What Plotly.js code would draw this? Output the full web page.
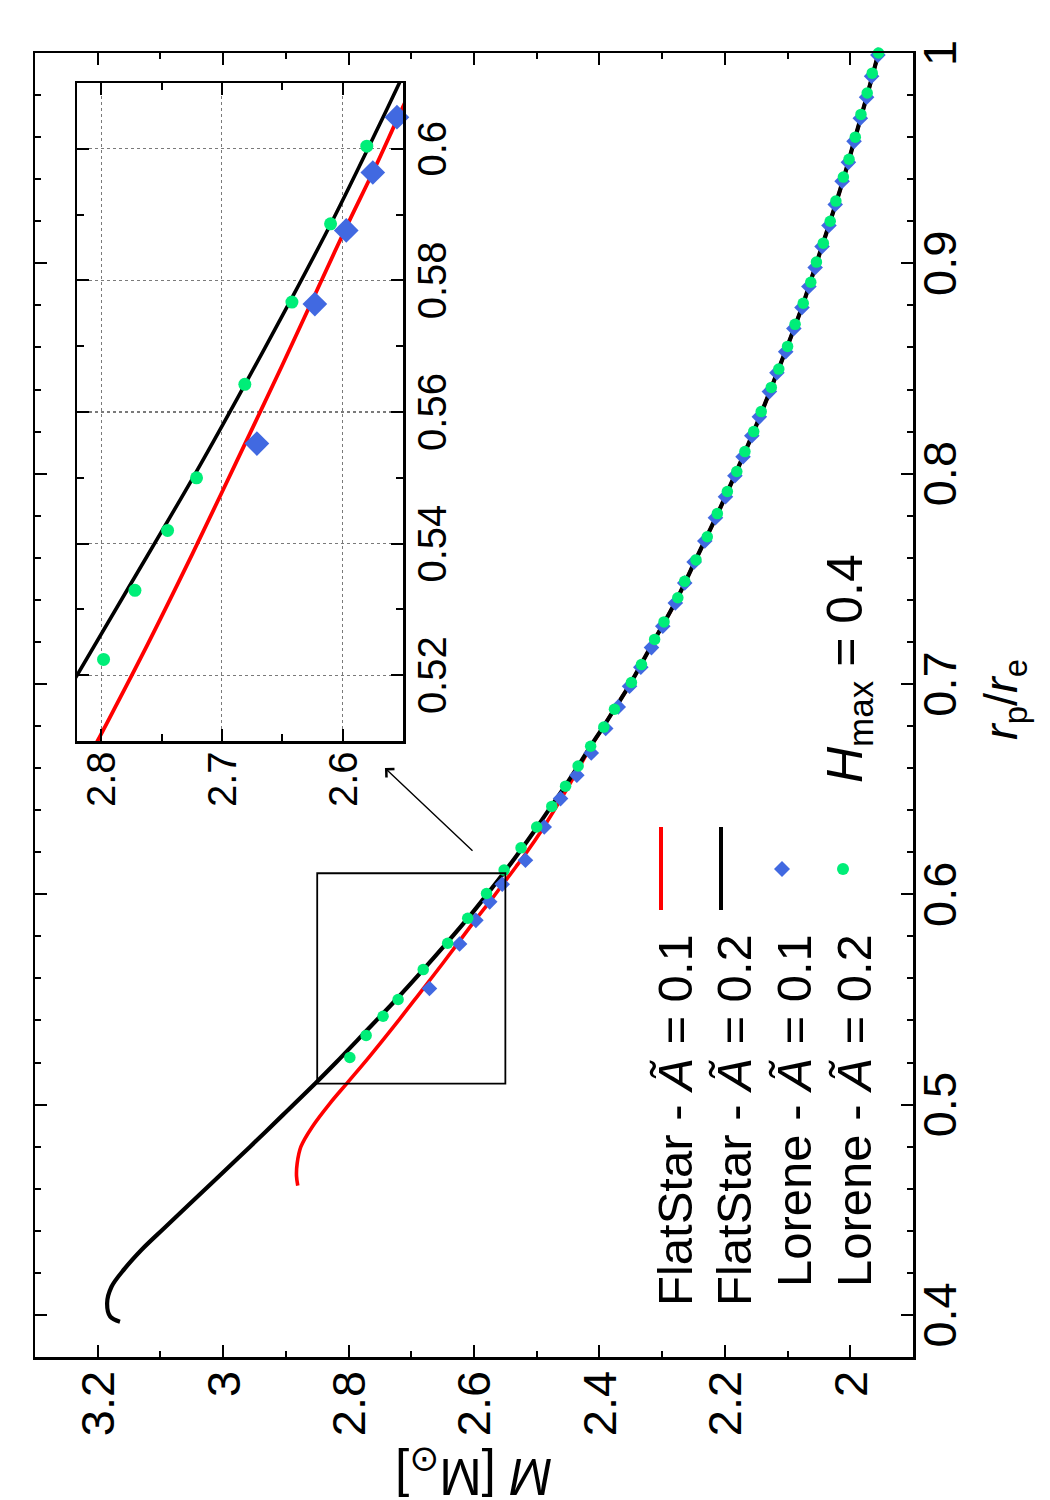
<!DOCTYPE html>
<html>
<head>
<meta charset="utf-8">
<script src="https://cdn.plot.ly/plotly-3.0.1.min.js"></script>
<style>
  html, body { margin: 0; padding: 0; background: #fff; overflow: hidden; width: 1050px; height: 1500px; }
  /* the figure is laid out in landscape and turned a quarter turn counter-clockwise */
  #chart { position: absolute; left: 0; top: 0; width: 1500px; height: 1050px;
           transform-origin: 0 0; transform: translate(0px, 1500px) rotate(-90deg); }
</style>
</head>
<body>
<div id="chart"></div>
<script>
// ---- FlatStar sequences (r_p/r_e, gravitational mass in solar masses) ----
const flatR_A01 = [0.4615,0.4660,0.4720,0.4800,0.4894,0.5005,0.5100,0.5227,0.5386,0.5528,
                   0.5671,0.5782,0.5877,0.5972,0.6044,0.6131,0.62,0.63,0.64,0.65,
                   0.66,0.67,0.68,0.69,0.70,0.72,0.74,0.76,0.78,0.80,
                   0.82,0.84,0.86,0.88,0.90,0.92,0.94,0.96,0.98,1.00];
const flatM_A01 = [2.881,2.883,2.882,2.876,2.858,2.830,2.803,2.767,2.724,2.687,
                   2.650,2.622,2.598,2.573,2.555,2.533,2.516,2.493,2.472,2.452,
                   2.433,2.414,2.393,2.372,2.351,2.314,2.277,2.245,2.213,2.183,
                   2.154,2.127,2.101,2.076,2.054,2.032,2.011,1.992,1.973,1.955];

const flatR_A02 = [0.3968,0.3992,0.4056,0.4134,0.4220,0.4310,0.4410,0.4520,0.4650,0.4800,
                   0.4950,0.5104,0.5200,0.5334,0.5500,0.5618,0.5770,0.5896,0.6008,0.6100,
                   0.62,0.63,0.64,0.65,0.66,0.67,0.68,0.69,0.70,
                   0.72,0.74,0.76,0.78,0.80,0.82,0.84,0.86,0.88,0.90,0.92,0.94,0.96,0.98,1.00];
const flatM_A02 = [3.1645,3.180,3.185,3.178,3.157,3.130,3.095,3.056,3.010,2.957,
                   2.905,2.852,2.820,2.777,2.724,2.688,2.643,2.607,2.577,2.553,
                   2.528,2.504,2.481,2.458,2.436,2.415,2.393,2.372,2.351,
                   2.314,2.277,2.245,2.213,2.183,2.154,2.127,2.101,2.076,2.054,2.032,2.011,1.992,1.973,1.955];

// ---- Lorene models ----
const loreneR_A01 = [0.5552,0.5764,0.5876,0.5964,0.6048,0.6162,0.6320,0.6455,0.6566,0.6672,
                     0.6788,0.6891,0.6989,0.7080,0.7173,0.7275,0.7385,0.7480,0.758,0.768,
                     0.779,0.789,0.799,0.808,0.818,0.827,0.839,0.848,0.858,0.869,
                     0.879,0.889,0.898,0.908,0.918,0.928,0.939,0.948,0.958,0.969,
                     0.979,0.989,0.999];
const loreneM_A01 = [2.671,2.623,2.597,2.575,2.555,2.518,2.488,2.462,2.436,2.413,
                     2.390,2.370,2.352,2.334,2.317,2.299,2.279,2.264,2.249,2.232,
                     2.215,2.199,2.184,2.171,2.157,2.145,2.129,2.117,2.103,2.090,
                     2.077,2.066,2.056,2.045,2.034,2.024,2.013,2.003,1.994,1.984,
                     1.974,1.966,1.956];

const loreneR_A02 = [0.5224,0.5329,0.5420,0.5500,0.5642,0.5767,0.5886,0.6004,0.6115,0.6221,
                     0.6320,0.6418,0.6514,0.6610,0.6704,0.6795,0.6880,0.7007,0.7092,0.7212,
                     0.7295,0.7410,0.7488,0.7590,0.7700,0.7810,0.7915,0.8010,0.8105,0.8200,
                     0.8295,0.8410,0.8497,0.8605,0.8710,0.8810,0.8910,0.9006,0.9096,0.9200,
                     0.9296,0.9410,0.9495,0.9600,0.9708,0.9810,0.9904,1.0000];
const loreneM_A02 = [2.798,2.772,2.745,2.721,2.681,2.642,2.610,2.580,2.552,2.525,
                     2.500,2.476,2.454,2.434,2.414,2.393,2.376,2.349,2.333,2.312,
                     2.297,2.275,2.264,2.246,2.228,2.212,2.196,2.181,2.168,2.154,
                     2.142,2.126,2.114,2.100,2.088,2.075,2.063,2.054,2.043,2.032,
                     2.023,2.011,2.002,1.992,1.983,1.973,1.965,1.955];

const legendLabels = ['FlatStar - <i>Ã</i> = 0.1', 'FlatStar - <i>Ã</i> = 0.2',
                      'Lorene - <i>Ã</i> = 0.1', 'Lorene - <i>Ã</i> = 0.2'];
const hmaxLabel = '<i>H</i><sub>max</sub> = 0.4';
const xTitle = '<i>r</i><sub>p</sub>/<i>r</i><sub>e</sub>';
const yTitle = '<i>M</i> [M<sub>⊙</sub>]';

// ---- axis ranges ----
const rRange = [0.38, 1.0];
const mRange = [1.9, 3.3];
const zoomR = [0.51, 0.61];
const zoomM = [2.55, 2.82];
const boxM = [2.55, 2.85];

// ---- geometry (landscape frame, pixels) ----
const FONT = '"Liberation Sans", Arial, Helvetica, "DejaVu Sans", sans-serif';
const W = 1500, H = 1050;
const MG = {l: 143, r: 53, t: 35, b: 137};
const PW = W - MG.l - MG.r;
const PH = H - MG.t - MG.b;
const px = u => (u - MG.l) / PW;
const py = v => (H - MG.b - v) / PH;

const RED = '#ff0000', BLACK = '#000000', BLUE = '#4169e1', GREEN = '#00ee78';

function inWindow(rs, ms) {
  const x = [], y = [];
  rs.forEach((r, i) => {
    if (r >= zoomR[0] && r <= zoomR[1] && ms[i] >= zoomM[0] && ms[i] <= zoomM[1]) { x.push(r); y.push(ms[i]); }
  });
  return {x, y};
}

function lineTrace(x, y, color, width, xa, ya) {
  return {type: 'scatter', mode: 'lines', x, y, xaxis: xa, yaxis: ya,
          line: {color, width, shape: 'spline', smoothing: 1},
          hoverinfo: 'skip', showlegend: false};
}
function markTrace(x, y, color, symbol, size, xa, ya) {
  return {type: 'scatter', mode: 'markers', x, y, xaxis: xa, yaxis: ya, cliponaxis: false,
          marker: {color, symbol, size, line: {width: 0}},
          hoverinfo: 'skip', showlegend: false};
}

const blueIn = inWindow(loreneR_A01, loreneM_A01);
const greenIn = inWindow(loreneR_A02, loreneM_A02);

const traces = [
  lineTrace(flatR_A01, flatM_A01, RED, 3.6, 'x', 'y'),
  lineTrace(flatR_A02, flatM_A02, BLACK, 4.2, 'x', 'y'),
  markTrace(loreneR_A01, loreneM_A01, BLUE, 'diamond', 12, 'x', 'y'),
  markTrace(loreneR_A02, loreneM_A02, GREEN, 'circle', 11.5, 'x', 'y'),
  lineTrace(flatR_A01, flatM_A01, RED, 3.8, 'x2', 'y2'),
  lineTrace(flatR_A02, flatM_A02, BLACK, 3.6, 'x2', 'y2'),
  markTrace(blueIn.x, blueIn.y, BLUE, 'diamond', 19, 'x2', 'y2'),
  markTrace(greenIn.x, greenIn.y, GREEN, 'circle', 13, 'x2', 'y2')
];

const axisBase = {
  showline: true, linecolor: '#000', linewidth: 2.5, mirror: 'ticks',
  ticks: 'inside', ticklen: 12, tickwidth: 2, tickcolor: '#000',
  zeroline: false, showgrid: false, fixedrange: true,
  tickfont: {family: FONT, size: 47, color: '#000'}
};
const minorBase = {ticks: 'inside', ticklen: 6, tickwidth: 2, tickcolor: '#000', showgrid: false};
const insetBase = Object.assign({}, axisBase, {
  showgrid: true, gridcolor: '#7a7a7a', griddash: 'dot', gridwidth: 1.2,
  tickfont: {family: FONT, size: 40, color: '#000'}
});

// legend: text on the left, sample on the right
const LEG_FS = 49;
const legendTextRight = px(568);
const legendBaseline = [691, 750, 810, 870];
const sampleRow = [661, 721, 782, 843];
const sampleU = [590, 673];
const markU = 631;

const dx = 8 / PW, dy = 8 / PH;
const shapes = [
  {type: 'rect', xref: 'x', yref: 'y', x0: zoomR[0], x1: zoomR[1], y0: boxM[0], y1: boxM[1],
   line: {color: '#000', width: 1.8}, layer: 'above'},
  {type: 'line', xref: 'paper', yref: 'paper', x0: px(sampleU[0]), x1: px(sampleU[1]),
   y0: py(sampleRow[0]), y1: py(sampleRow[0]), line: {color: RED, width: 4}},
  {type: 'line', xref: 'paper', yref: 'paper', x0: px(sampleU[0]), x1: px(sampleU[1]),
   y0: py(sampleRow[1]), y1: py(sampleRow[1]), line: {color: BLACK, width: 4}},
  {type: 'path', xref: 'paper', yref: 'paper', fillcolor: BLUE, line: {width: 0},
   path: `M${px(markU) - dx},${py(sampleRow[2])} L${px(markU)},${py(sampleRow[2]) + dy} L${px(markU) + dx},${py(sampleRow[2])} L${px(markU)},${py(sampleRow[2]) - dy} Z`},
  {type: 'circle', xref: 'paper', yref: 'paper', fillcolor: GREEN, line: {width: 0},
   x0: px(markU) - 6 / PW, x1: px(markU) + 6 / PW, y0: py(sampleRow[3]) - 6 / PH, y1: py(sampleRow[3]) + 6 / PH}
];

const annotations = legendLabels.map((t, i) => ({
  text: t, xref: 'paper', yref: 'paper', x: legendTextRight,
  y: py(legendBaseline[i] - 0.905 * LEG_FS - 1),
  xanchor: 'right', yanchor: 'top', showarrow: false,
  font: {family: FONT, size: LEG_FS, color: '#000'}
}));
annotations.push(
  {text: hmaxLabel, xref: 'paper', yref: 'paper', x: px(715), y: py(861.7 - 0.905 * 50 - 1),
   xanchor: 'left', yanchor: 'top', showarrow: false, font: {family: FONT, size: 50, color: '#000'}},
  {text: xTitle, xref: 'paper', yref: 'paper', x: px(800), y: 0, yshift: -59, xanchor: 'center', yanchor: 'top',
   showarrow: false, font: {family: FONT, size: 47, color: '#000'}},
  {text: yTitle, xref: 'paper', yref: 'paper', x: 0, xshift: -81, y: 0.5, xanchor: 'right', yanchor: 'middle',
   textangle: -90, showarrow: false, font: {family: FONT, size: 51, color: '#000'}},
  {text: '', xref: 'x', yref: 'y', x: 0.66, y: 2.742, axref: 'x', ayref: 'y', ax: 0.62, ay: 2.60,
   showarrow: true, arrowhead: 4, arrowsize: 1.6, arrowwidth: 1.4, arrowcolor: '#000', standoff: 0}
);

const layout = {
  width: W, height: H, autosize: false,
  margin: {l: MG.l, r: MG.r, t: MG.t, b: MG.b, pad: 0},
  paper_bgcolor: '#fff', plot_bgcolor: '#fff', showlegend: false,
  font: {family: FONT, size: 47, color: '#000'},
  xaxis: Object.assign({}, axisBase, {range: rRange, tick0: 0, dtick: 0.1, anchor: 'y', domain: [0, 1],
                                      ticklabelstandoff: -16,
                                      minor: Object.assign({dtick: 0.02}, minorBase)}),
  yaxis: Object.assign({}, axisBase, {range: mRange, tick0: 0, dtick: 0.2, anchor: 'x', domain: [0, 1],
                                      ticklabelstandoff: 2,
                                      minor: Object.assign({dtick: 0.1}, minorBase)}),
  xaxis2: Object.assign({}, insetBase, {range: zoomR, tick0: 0, dtick: 0.02, anchor: 'y2',
                                        domain: [px(759), px(1417)], ticklabelstandoff: -8,
                                        minor: Object.assign({dtick: 0.01}, minorBase, {ticklen: 7})}),
  yaxis2: Object.assign({}, insetBase, {range: zoomM, tick0: 0, dtick: 0.1, anchor: 'x2',
                                        domain: [py(403), py(77)],
                                        minor: Object.assign({dtick: 0.05}, minorBase, {ticklen: 7})}),
  shapes, annotations
};

Plotly.newPlot('chart', traces, layout, {staticPlot: true, displayModeBar: false});
</script>
</body>
</html>
